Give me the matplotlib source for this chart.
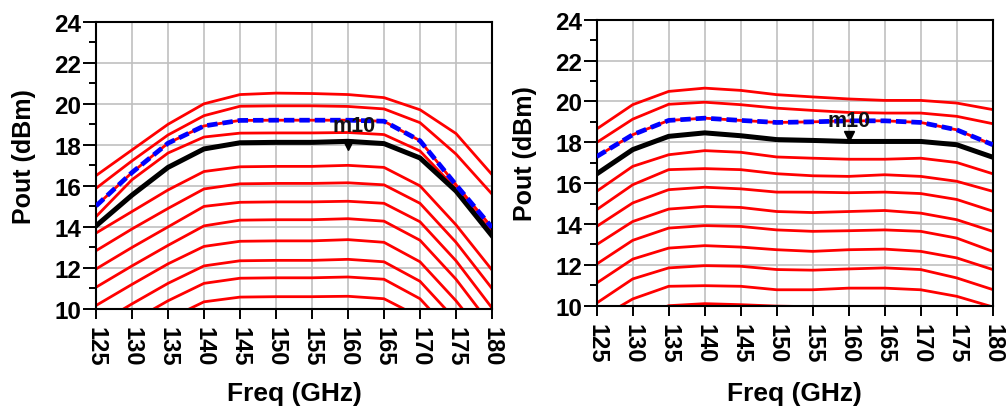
import matplotlib
matplotlib.use('Agg')
import matplotlib.pyplot as plt
from matplotlib.ticker import MultipleLocator
from matplotlib.transforms import ScaledTranslation

plt.rcParams['font.family'] = ['Liberation Sans', 'DejaVu Sans']
plt.rcParams['font.weight'] = 'bold'
plt.rcParams['lines.scale_dashes'] = False

# ---------------- data ----------------
freq = [125, 130, 135, 140, 145, 150, 155, 160, 165, 170, 175, 180]
x_ticks = [125, 130, 135, 140, 145, 150, 155, 160, 165, 170, 175, 180]
x_tick_labels = [str(v) for v in x_ticks]
y_ticks = [10, 12, 14, 16, 18, 20, 22, 24]
y_tick_labels = [str(v) for v in y_ticks]
x_label = "Freq (GHz)"
y_label = "Pout (dBm)"
marker_name = "m10"
marker_freq = 160

# left chart: red family (Pin sweep)
left_red = [
    [16.50, 17.75, 19.00, 20.00, 20.45, 20.52, 20.50, 20.45, 20.30, 19.71, 18.55, 16.55],
    [15.88, 17.22, 18.48, 19.42, 19.88, 19.90, 19.90, 19.87, 19.75, 19.08, 17.55, 15.60],
    [15.02, 16.65, 18.08, 18.92, 19.19, 19.20, 19.20, 19.20, 19.15, 18.20, 16.05, 13.97],
    [14.50, 16.30, 17.60, 18.38, 18.57, 18.58, 18.58, 18.60, 18.50, 17.70, 15.85, 13.75],
    [13.70, 14.75, 15.80, 16.70, 16.93, 16.95, 16.95, 17.00, 16.90, 16.00, 14.10, 11.90],
    [12.84, 13.90, 14.90, 15.85, 16.10, 16.12, 16.12, 16.15, 16.05, 15.15, 13.25, 11.00],
    [11.95, 13.00, 14.00, 15.00, 15.20, 15.22, 15.22, 15.25, 15.15, 14.25, 12.35, 10.05],
    [11.06, 12.10, 13.10, 14.05, 14.33, 14.35, 14.35, 14.40, 14.28, 13.35, 11.45, 9.15],
    [10.17, 11.20, 12.20, 13.05, 13.30, 13.32, 13.32, 13.38, 13.25, 12.30, 10.40, 8.20],
    [9.20, 10.25, 11.25, 12.10, 12.35, 12.37, 12.37, 12.42, 12.30, 11.35, 9.45, 7.30],
    [8.30, 9.40, 10.40, 11.25, 11.50, 11.52, 11.52, 11.56, 11.45, 10.50, 8.60, 6.40],
    [7.40, 8.50, 9.50, 10.35, 10.58, 10.60, 10.60, 10.62, 10.50, 9.60, 7.70, 5.50],
]
left_blue = [15.02, 16.65, 18.08, 18.92, 19.19, 19.20, 19.20, 19.20, 19.15, 18.20, 16.05, 13.97]
left_black = [14.05, 15.55, 16.90, 17.80, 18.10, 18.12, 18.12, 18.17, 18.06, 17.36, 15.75, 13.57]

# right chart
right_red = [
    [18.65, 19.84, 20.49, 20.65, 20.54, 20.33, 20.22, 20.12, 20.05, 20.05, 19.92, 19.60],
    [17.99, 19.13, 19.86, 19.96, 19.84, 19.67, 19.56, 19.46, 19.43, 19.43, 19.27, 18.91],
    [17.30, 18.37, 19.07, 19.18, 19.07, 18.97, 19.00, 19.05, 19.05, 18.97, 18.61, 17.88],
    [15.60, 16.82, 17.39, 17.59, 17.51, 17.28, 17.22, 17.17, 17.17, 17.22, 17.01, 16.46],
    [14.70, 15.92, 16.66, 16.71, 16.66, 16.46, 16.36, 16.33, 16.41, 16.33, 16.09, 15.60],
    [13.88, 15.03, 15.68, 15.80, 15.72, 15.56, 15.56, 15.53, 15.56, 15.49, 15.20, 14.63],
    [12.99, 14.12, 14.73, 14.86, 14.81, 14.61, 14.56, 14.61, 14.66, 14.53, 14.21, 13.64],
    [12.04, 13.20, 13.80, 13.92, 13.88, 13.71, 13.64, 13.67, 13.71, 13.64, 13.31, 12.66],
    [11.11, 12.28, 12.82, 12.94, 12.87, 12.74, 12.66, 12.74, 12.77, 12.66, 12.34, 11.77],
    [10.13, 11.31, 11.85, 11.96, 11.93, 11.77, 11.74, 11.80, 11.85, 11.77, 11.36, 10.79],
    [9.30, 10.33, 10.95, 10.98, 10.95, 10.78, 10.78, 10.86, 10.86, 10.78, 10.46, 9.94],
    [8.30, 9.40, 10.00, 10.10, 10.05, 9.98, 9.95, 9.95, 9.97, 9.95, 9.60, 8.90],
]
right_blue = [17.30, 18.37, 19.07, 19.18, 19.07, 18.97, 19.00, 19.05, 19.05, 18.97, 18.61, 17.88]
right_black = [16.45, 17.64, 18.29, 18.46, 18.32, 18.13, 18.09, 18.04, 18.04, 18.04, 17.88, 17.27]

# ---------------- figure ----------------
W, H = 1006, 410
fig = plt.figure(figsize=(W / 100, H / 100), dpi=100)
axL = fig.add_axes([96 / W, 100 / H, 396 / W, 287.3 / H])
axR = fig.add_axes([596.7 / W, 103.3 / H, 396 / W, 286 / H])


def draw(ax, red, blue, black, mk_dy_px, txt_dx_pt, txt_dy_pt, xlab_y):
    for r in red:
        ax.plot(freq, r, color='#ff0000', lw=2.0, zorder=2)
    ax.plot(freq, black, color='black', lw=3.6, zorder=3)
    ax.plot(freq, blue, color='#0000ff', lw=3.4, ls=(0, (7.5, 3.6)), zorder=4)

    idx = freq.index(marker_freq)
    off = ax.transData + ScaledTranslation(0, mk_dy_px / 100, fig.dpi_scale_trans)
    ax.plot([marker_freq], [black[idx]], marker='v', ms=7, color='black',
            transform=off, zorder=6, ls='none')
    ax.annotate(marker_name, xy=(marker_freq, black[idx]), xytext=(txt_dx_pt, txt_dy_pt),
                textcoords='offset points', ha='center', va='baseline',
                fontsize=15.5, fontweight='bold', color='#111111', zorder=7)

    ax.set_xlim(125, 180)
    ax.set_ylim(10, 24)
    ax.set_xticks(x_ticks)
    ax.set_xticklabels(x_tick_labels, rotation=270, fontsize=17, fontweight='bold')
    ax.set_yticks(y_ticks)
    ax.set_yticklabels(y_tick_labels, fontsize=17.5, fontweight='bold')
    ax.yaxis.set_minor_locator(MultipleLocator(1))
    ax.tick_params(axis='x', which='major', length=7.5, width=1.4, pad=5, direction='out')
    ax.tick_params(axis='y', which='major', length=9.5, width=1.4, pad=1, direction='out')
    ax.tick_params(axis='y', which='minor', length=5, width=1.4, direction='out')
    ax.grid(True, which='major', color='#c0c0c0', lw=1.2)
    ax.set_axisbelow(True)
    for s in ax.spines.values():
        s.set_linewidth(1.5)
        s.set_color('black')

    ax.set_xlabel(x_label, fontsize=19, fontweight='bold')
    ax.set_ylabel(y_label, fontsize=18, fontweight='bold')
    ax.xaxis.label.set_va('center')
    ax.xaxis.set_label_coords(0.5, xlab_y)
    ax.yaxis.label.set_va('center')
    ax.yaxis.set_label_coords(-0.182, 0.534)


draw(axL, left_red, left_blue, left_black, -4, 4.7, 7.2, -0.292)
draw(axR, right_red, right_blue, right_black, 5, 0, 10.8, -0.305)

fig.savefig('out.png', dpi=100)
